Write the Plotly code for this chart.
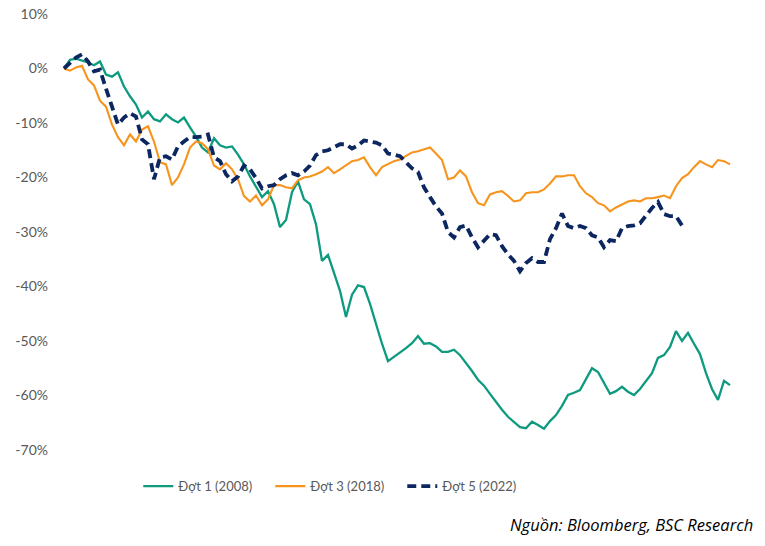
import plotly.graph_objects as go

# Cumulative change (%) from start of each correction episode, equally spaced trading days
dot1_2008 = [0, 1.6, 1.8, 1.5, 1.1, 0.6, 1.3, -1.1, -1.5, -0.7, -3.3, -5.1, -6.6, -9.0, -7.9, -9.3,
             -9.7, -8.4, -9.3, -9.9, -9.0, -10.8, -12.5, -14.5, -15.4, -12.8, -14.1, -14.5, -14.3, -15.8,
             -17.6, -19.8, -21.8, -23.6, -22.5, -24.9, -29.1, -27.8, -22.7, -20.7, -24.0, -24.9, -28.6,
             -35.3, -34.2, -37.4, -40.8, -45.6, -41.5, -39.8, -40.1, -43.2, -47.1, -50.5, -53.7, -52.9,
             -52.2, -51.3, -50.4, -49.1, -50.5, -50.4, -51.0, -52.0, -52.0, -51.6, -52.6, -54.0, -55.5,
             -57.1, -58.2, -59.7, -61.2, -62.6, -63.9, -64.8, -65.8, -66.0, -64.8, -65.4, -66.1, -64.7,
             -63.6, -61.9, -59.9, -59.5, -59.0, -57.0, -55.0, -55.7, -57.7, -59.7, -59.2, -58.4, -59.3,
             -59.9, -58.8, -57.3, -55.9, -53.1, -52.6, -51.1, -48.2, -50.0, -48.5, -50.5, -52.4, -55.9,
             -58.8, -60.8, -57.3, -58.1]

dot3_2018 = [0, -0.4, 0.2, 0.5, -2.0, -3.1, -5.9, -7.0, -10.3, -12.6, -14.1, -12.1, -13.4, -11.2,
             -10.6, -13.4, -17.2, -17.6, -21.4, -20.0, -17.6, -14.5, -13.4, -13.7, -14.8, -17.8, -18.5,
             -17.4, -18.5, -20.3, -23.4, -24.4, -23.3, -25.1, -24.0, -21.4, -21.4, -21.8, -22.0, -20.5,
             -20.0, -19.8, -19.4, -18.9, -18.1, -19.2, -18.5, -17.8, -17.0, -16.8, -16.3, -18.1, -19.6,
             -18.1, -17.6, -17.0, -16.7, -16.1, -15.4, -15.2, -14.8, -14.5, -15.6, -16.8, -20.3, -20.0,
             -18.7, -19.8, -22.7, -24.7, -25.1, -23.1, -22.7, -22.5, -23.4, -24.4, -24.2, -22.9, -22.7,
             -22.7, -22.2, -21.1, -19.8, -19.8, -19.6, -19.6, -21.6, -22.9, -23.6, -24.7, -25.1, -26.2,
             -25.5, -24.9, -24.4, -24.2, -24.4, -23.8, -23.8, -23.6, -23.3, -23.8, -21.6, -20.1, -19.4,
             -18.1, -17.0, -17.6, -18.1, -16.8, -17.0, -17.6]

dot5_2022 = [0, 1.1, 2.0, 2.6, 1.3, -0.5, -0.2, -3.7, -7.0, -10.3, -9.0, -8.2, -8.8, -13.0, -13.9,
             -20.3, -16.3, -16.1, -16.7, -14.3, -13.4, -12.6, -12.6, -12.5, -12.1, -16.3, -17.0, -19.4,
             -20.7, -19.8, -17.8, -18.5, -20.1, -22.0, -21.6, -21.4, -20.3, -19.6, -19.2, -19.6, -18.9,
             -17.8, -15.9, -15.2, -15.0, -14.5, -13.9, -13.9, -14.7, -14.1, -13.2, -13.4, -13.6, -14.1,
             -15.6, -15.8, -16.1, -17.2, -18.3, -19.0, -21.8, -23.6, -25.3, -26.6, -30.0, -31.0, -29.1,
             -28.8, -31.0, -32.8, -31.5, -30.4, -30.6, -32.6, -34.1, -35.3, -37.2, -35.7, -34.8, -35.5,
             -35.5, -31.3, -29.3, -26.6, -28.9, -29.3, -28.9, -29.3, -30.6, -31.0, -32.8, -31.5, -31.7,
             -29.3, -28.9, -28.8, -28.4, -26.9, -25.6, -24.5, -26.7, -27.1, -27.1, -28.8]

series_names = ["Đợt 1 (2008)", "Đợt 3 (2018)", "Đợt 5 (2022)"]
y_ticks = [10, 0, -10, -20, -30, -40, -50, -60, -70]
y_tick_labels = ["10%", "0%", "-10%", "-20%", "-30%", "-40%", "-50%", "-60%", "-70%"]
source_text = "Nguồn: Bloomberg, BSC Research"

fig = go.Figure()
fig.add_trace(go.Scatter(x=list(range(len(dot1_2008))), y=dot1_2008, mode="lines",
                         name=series_names[0], line=dict(color="#0E9A7E", width=2.3)))
fig.add_trace(go.Scatter(x=list(range(len(dot3_2018))), y=dot3_2018, mode="lines",
                         name=series_names[1], line=dict(color="#F7941D", width=2.1)))
fig.add_trace(go.Scatter(x=list(range(len(dot5_2022))), y=dot5_2022, mode="lines",
                         name=series_names[2],
                         line=dict(color="#0C2660", width=3.8, dash="9px,5px")))

fig.update_layout(
    width=765, height=546,
    margin=dict(l=61, r=32, t=14, b=96, autoexpand=False),
    paper_bgcolor="white", plot_bgcolor="white",
    font=dict(family="Lato, Open Sans, sans-serif", size=13, color="#595959"),
    showlegend=True,
    legend=dict(orientation="h", x=0.115, xanchor="left", y=-0.083, yanchor="middle",
                font=dict(size=13, color="#595959"), itemwidth=30, tracegroupgap=0,
                entrywidth=87, entrywidthmode="pixels",
                bgcolor="rgba(0,0,0,0)"),
    xaxis=dict(range=[-0.5, 111.5], showticklabels=False, showgrid=False, zeroline=False,
               showline=False, ticks="", automargin=False),
    yaxis=dict(range=[-70, 10], tickmode="array", tickvals=y_ticks, ticktext=y_tick_labels,
               showgrid=False, zeroline=False, showline=False, ticks="", ticklabelstandoff=12,
               automargin=False, tickfont=dict(size=14, color="#595959")),
    annotations=[dict(text=source_text, xref="paper", yref="paper", x=1.032, y=-0.172,
                      xanchor="right", yanchor="middle", showarrow=False,
                      font=dict(size=16.5, color="#000000", family="Open Sans, Lato, sans-serif",
                                style="italic"))],
)

fig.write_html("out.html", config={"displayModeBar": False},
               post_script="document.body.style.margin='0px';")
